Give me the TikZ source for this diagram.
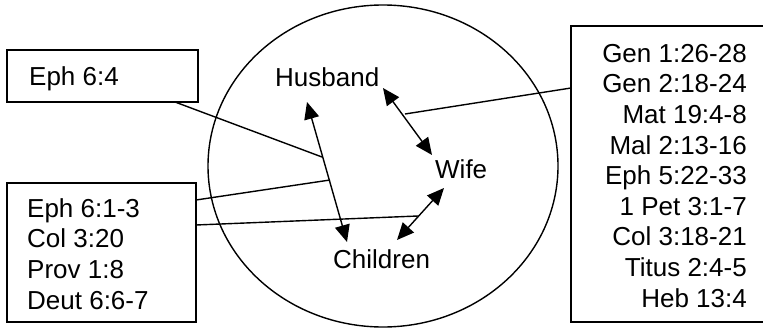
\documentclass[tikz,border=0pt]{standalone}
\usepackage{fontspec}
\setmainfont{Liberation Sans}
\usetikzlibrary{arrows.meta,shapes.geometric}
\begin{document}
\begin{tikzpicture}[x=1pt,y=-1pt,
  lw/.style={line width=1.4pt},
  boxnode/.style={draw,lw,rectangle,inner sep=0pt},
  lbl/.style={inner sep=0pt,font=\fontsize{26}{30.6}\selectfont},
  dbl/.style={lw,{Triangle[length=17pt,width=15pt]}-{Triangle[length=17pt,width=15pt]},shorten <=0pt,shorten >=0pt},
  conn/.style={lw}]
\useasboundingbox (0,0) rectangle (763,329);
\clip (0,0) rectangle (763,329);
% family circle
\node[draw,lw,ellipse,minimum width=350pt,minimum height=322pt,inner sep=0pt] (fam) at (383,166) {};
% boxes
\node[boxnode,minimum width=191pt,minimum height=52pt] (b1) at (102.5,76) {};
\node[boxnode,minimum width=189pt,minimum height=139pt] (b2) at (101.5,252.5) {};
\node[boxnode,minimum width=197pt,minimum height=296pt] (b3) at (669.5,174) {};
% texts (base anchor of a multi-line node = last line)
\node[lbl,anchor=base west] (t1) at (29,85) {Eph 6:4};
\node[lbl,anchor=base west,align=left] (t2) at (27,309) {Eph 6:1-3\\Col 3:20\\Prov 1:8\\Deut 6:6-7};
\node[lbl,anchor=base east,align=right] (t3) at (747,307) {Gen 1:26-28\\Gen 2:18-24\\Mat 19:4-8\\Mal 2:13-16\\Eph 5:22-33\\1 Pet 3:1-7\\Col 3:18-21\\Titus 2:4-5\\Heb 13:4};
\node[lbl,anchor=base west] (hus) at (275,86) {Husband};
\node[lbl,anchor=base west] (wife) at (435,178) {Wife};
\node[lbl,anchor=base west] (chi) at (333,268) {Children};
% arrow end points
\coordinate (hw1) at (383,88);
\coordinate (hw2) at (432,155);
\coordinate (hc1) at (307,102);
\coordinate (hc2) at (347,242);
\coordinate (wc1) at (444,188);
\coordinate (wc2) at (397,240);
\draw[dbl] (hw1) -- (hw2);
\draw[dbl] (hc1) -- (hc2);
\draw[dbl] (wc1) -- (wc2);
% connector end points
\coordinate (c1a) at (175,102);
\coordinate (c1b) at (322,157);
\coordinate (c2a) at (196,200);
\coordinate (c2b) at (330,180);
\coordinate (c3a) at (196,225);
\coordinate (c3b) at (418,216);
\coordinate (c4a) at (571,88);
\coordinate (c4b) at (405,114);
\draw[conn] (c1a) -- (c1b);
\draw[conn] (c2a) -- (c2b);
\draw[conn] (c3a) -- (c3b);
\draw[conn] (c4a) -- (c4b);
\end{tikzpicture}
\end{document}
